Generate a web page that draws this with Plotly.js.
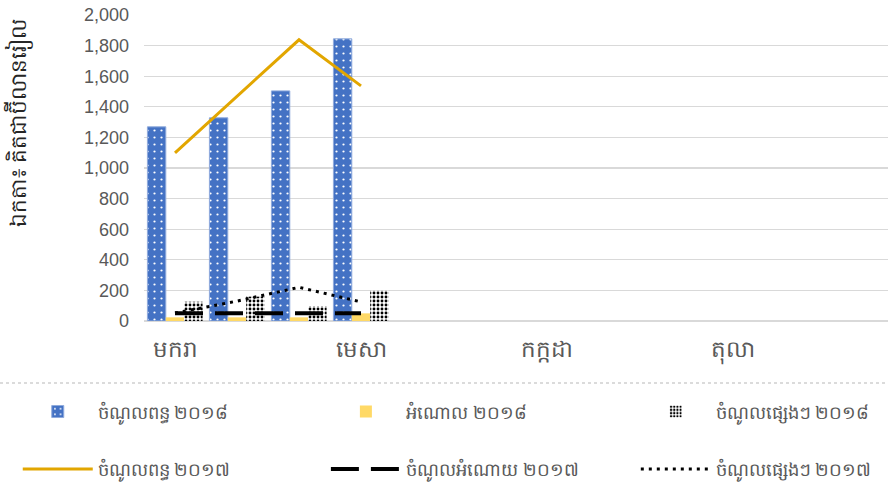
<!DOCTYPE html>
<html>
<head>
<meta charset="utf-8">
<script src="https://cdn.plot.ly/plotly-3.0.1.min.js"></script>
<style>html,body{margin:0;padding:0;background:#fff;}#chart{width:888px;height:496px;}</style>
</head>
<body>
<div id="chart"></div>
<script>
const months = ["មករា","កុម្ភៈ","មីនា","មេសា","ឧសភា","មិថុនា","កក្កដា","សីហា","កញ្ញា","តុលា","វិច្ឆិកា","ធ្នូ"];
const tickMonths = ["មករា","មេសា","កក្កដា","តុលា"];
const tax2018 = [1269, 1328, 1504, 1844, null, null, null, null, null, null, null, null];
const grant2018 = [24, 24, 24, 50, null, null, null, null, null, null, null, null];
const other2018 = [126, 159, 98, 198, null, null, null, null, null, null, null, null];
const tax2017 = [1099, 1467, 1838, 1537, null, null, null, null, null, null, null, null];
const grant2017 = [50, 50, 50, 50, null, null, null, null, null, null, null, null];
const other2017 = [52, 130, 220, 125, null, null, null, null, null, null, null, null];
const names = ["ចំណូលពន្ធ ២០១៨","អំណោល ២០១៨","ចំណូលផ្សេងៗ ២០១៨","ចំណូលពន្ធ ២០១៧","ចំណូលអំណោយ ២០១៧","ចំណូលផ្សេងៗ ២០១៧"];
const yTitle = "ឯកតា៖ គិតជាប៊ីលានរៀល";

const font = "'Noto Sans', 'DejaVu Sans', sans-serif";
const traces = [
  {type:'bar', name:names[0], x:months, y:tax2018, legend:'legend', legendgroup:'a',
   marker:{color:'#4472C4', line:{color:'#8FAADC', width:1},
     pattern:{shape:'.', fgcolor:'#ffffff', bgcolor:'#4472C4', size:7, solidity:0.08, fillmode:'replace'}}},
  {type:'bar', name:names[1], x:months, y:grant2018, legend:'legend2', legendgroup:'b',
   marker:{color:'#FFD966'}},
  {type:'bar', name:names[2], x:months, y:other2018, legend:'legend3', legendgroup:'c',
   marker:{color:'#ffffff', pattern:{shape:'.', fgcolor:'#000000', bgcolor:'#ffffff', size:4, solidity:0.4, fillmode:'replace'}}},
  {type:'scatter', mode:'lines', name:names[3], x:months, y:tax2017, legend:'legend', legendgroup:'d',
   line:{color:'#E2A600', width:3}},
  {type:'scatter', mode:'lines', name:names[4], x:months, y:grant2017, legend:'legend2', legendgroup:'e',
   line:{color:'#000000', width:4, dash:'28px,12px'}},
  {type:'scatter', mode:'lines', name:names[5], x:months, y:other2017, legend:'legend3', legendgroup:'f',
   line:{color:'#000000', width:3, dash:'3px,5px'}}
];

const legBase = {orientation:'v', xref:'container', yref:'container', xanchor:'left', yanchor:'top',
  y:0.207, itemwidth:70, tracegroupgap:31, font:{family:font, size:18, color:'#595959'}, bgcolor:'rgba(0,0,0,0)'};

const layout = {
  width:888, height:496,
  margin:{l:144, r:0, t:15, b:175, autoexpand:false},
  paper_bgcolor:'#ffffff', plot_bgcolor:'#ffffff',
  font:{family:font, color:'#595959'},
  barmode:'group', bargap:0.11, bargroupgap:0,
  showlegend:true,
  legend:Object.assign({}, legBase, {x:0.02}),
  legend2:Object.assign({}, legBase, {x:0.367}),
  legend3:Object.assign({}, legBase, {x:0.716}),
  xaxis:{type:'category', categoryorder:'array', categoryarray:months,
    tickmode:'array', tickvals:tickMonths, ticktext:tickMonths,
    showgrid:false, zeroline:false, showline:false, ticks:'',
    ticklabelstandoff:12, tickfont:{family:font, size:23, color:'#595959'}},
  yaxis:{range:[0,2000], tickvals:[0,200,400,600,800,1000,1200,1400,1600,1800,2000], tickformat:',d',
    showgrid:true, gridcolor:'#D9D9D9', gridwidth:1.3, zeroline:true, zerolinecolor:'#D9D9D9', zerolinewidth:1.3,
    showline:false, ticks:'', ticklabelstandoff:14,
    tickfont:{family:'Liberation Sans, Arial, sans-serif', size:18, color:'#595959'}},
  annotations:[{text:yTitle, xref:'paper', yref:'paper', x:(18-144)/744, y:(321-123)/306, textangle:-90,
    showarrow:false, xanchor:'center', yanchor:'middle', font:{family:font, size:21.5, color:'#262626'}}],
  shapes:[{type:'line', xref:'paper', yref:'paper', x0:-144/744, x1:1, y0:-62/306, y1:-62/306,
    line:{color:'#D0D0D0', width:1.5, dash:'dot'}}]
};
Plotly.newPlot('chart', traces, layout, {displayModeBar:false, staticPlot:true});
</script>
</body>
</html>
